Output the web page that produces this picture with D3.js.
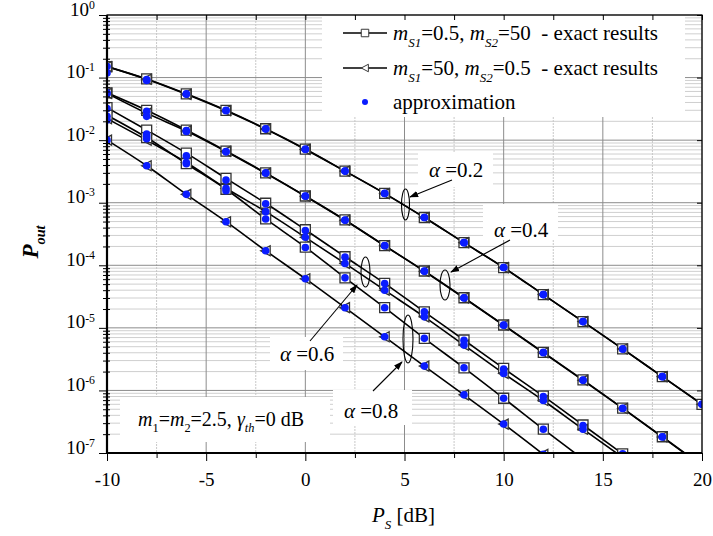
<!DOCTYPE html>
<html>
<head>
<meta charset="utf-8">
<script src="https://cdn.jsdelivr.net/npm/d3@7/dist/d3.min.js"></script>
<style>
  html,body{margin:0;padding:0;background:#fff;}
</style>
</head>
<body>
<svg id="chart" width="713" height="536"></svg>
<script>
// ---------------- DATA ----------------
const psDb = [-10,-8,-6,-4,-2,0,2,4,6,8,10,12,14,16,18,20];

// exact results, m_S1=0.5, m_S2=50 (squares) and m_S1=50, m_S2=0.5 (triangles)
const a02Sq  = [1.5e-1,9.5e-2,5.5e-2,3.0e-2,1.52e-2,7.2e-3,3.2e-3,1.41e-3,5.8e-4,2.3e-4,9.2e-5,3.4e-5,1.26e-5,4.6e-6,1.66e-6,6.0e-7];
const a02Tri = [1.5e-1,9.4e-2,5.4e-2,2.95e-2,1.5e-2,7.1e-3,3.2e-3,1.40e-3,5.8e-4,2.3e-4,9.2e-5,3.4e-5,1.26e-5,4.6e-6,1.66e-6,6.0e-7];
const a04Sq  = [5.7e-2,3.0e-2,1.45e-2,6.7e-3,3.0e-3,1.28e-3,5.3e-4,2.06e-4,8.1e-5,3.03e-5,1.11e-5,4.07e-6,1.47e-6,5.2e-7,1.82e-7,6.3e-8];
const a04Tri = [5.6e-2,2.7e-2,1.4e-2,6.6e-3,2.95e-3,1.27e-3,5.25e-4,2.05e-4,8.0e-5,3.0e-5,1.1e-5,4.0e-6,1.45e-6,5.15e-7,1.8e-7,6.2e-8];
const a06Sq  = [3.3e-2,1.45e-2,6.2e-3,2.45e-3,9.8e-4,3.7e-4,1.37e-4,5.15e-5,1.8e-5,6.4e-6,2.25e-6,8.1e-7,2.8e-7,9.7e-8];
const a06Tri = [2.2e-2,1.0e-2,4.4e-3,1.7e-3,7.2e-4,2.8e-4,1.07e-4,4.0e-5,1.5e-5,5.3e-6,1.87e-6,6.9e-7,2.4e-7,8.5e-8];
const a08Sq  = [2.5e-2,1.1e-2,4.2e-3,1.64e-3,5.5e-4,1.95e-4,6.3e-5,2.1e-5,6.8e-6,2.3e-6,7.5e-7,2.4e-7,8.0e-8];
const a08Tri = [1.0e-2,3.9e-3,1.36e-3,4.97e-4,1.71e-4,6.1e-5,2.1e-5,7.2e-6,2.45e-6,8.5e-7,2.9e-7,9.5e-8];

// approximation (blue dots)
const ap02Sq  = [1.5e-1,9.3e-2,5.5e-2,3.0e-2,1.52e-2,7.2e-3,3.2e-3,1.41e-3,5.8e-4,2.3e-4,9.2e-5,3.4e-5,1.26e-5,4.6e-6,1.66e-6,6.0e-7];
const ap02Tri = [1.18e-1,9.0e-2,5.4e-2,2.95e-2,1.5e-2,7.1e-3,3.2e-3,1.40e-3,5.8e-4,2.3e-4,9.2e-5,3.4e-5,1.26e-5,4.6e-6,1.66e-6,6.0e-7];
const ap04Sq  = [5.7e-2,2.9e-2,1.42e-2,6.6e-3,3.0e-3,1.28e-3,5.3e-4,2.06e-4,8.1e-5,3.03e-5,1.11e-5,4.07e-6,1.47e-6,5.2e-7,1.82e-7,6.3e-8];
const ap04Tri = [5.5e-2,2.4e-2,1.38e-2,6.5e-3,2.95e-3,1.27e-3,5.25e-4,2.05e-4,8.0e-5,3.0e-5,1.1e-5,4.0e-6,1.45e-6,5.15e-7,1.8e-7,6.2e-8];
const ap06Sq  = [3.2e-2,1.25e-2,5.6e-3,2.3e-3,9.6e-4,3.6e-4,1.35e-4,5.1e-5,1.8e-5,6.3e-6,2.2e-6,8.0e-7,2.75e-7,9.7e-8];
const ap06Tri = [2.1e-2,1.05e-2,4.4e-3,1.7e-3,7.2e-4,2.8e-4,1.07e-4,4.0e-5,1.5e-5,5.3e-6,1.87e-6,6.9e-7,2.4e-7,8.5e-8];
const ap08Sq  = [2.4e-2,1.15e-2,4.2e-3,1.55e-3,5.5e-4,1.92e-4,6.3e-5,2.1e-5,6.8e-6,2.3e-6,7.5e-7,2.4e-7,8.0e-8];
const ap08Tri = [1.0e-2,3.9e-3,1.36e-3,4.97e-4,1.71e-4,6.1e-5,2.1e-5,7.2e-6,2.45e-6,8.5e-7,2.9e-7,9.5e-8];

const xTicks = [-10,-5,0,5,10,15,20];
const xMinor = [-7.5,-2.5,2.5,7.5,12.5,17.5];
const yExps  = [0,-1,-2,-3,-4,-5,-6,-7];

// --------------- SETUP ---------------
const FONT = "'Liberation Serif'";
const M = {l:107, r:702, t:15, b:453};
const svg = d3.select("#chart");
const x = d3.scaleLinear().domain([-10,20]).range([M.l, M.r]);
const y = d3.scaleLog().domain([1e-7,1]).range([M.b, M.t]);

const yMajor = yExps.map(e => Math.pow(10,e));
const yMinor = [];
for (let e=-7; e<0; e++) for (let k=2; k<=9; k++) yMinor.push(k*Math.pow(10,e));

svg.append("defs").append("clipPath").attr("id","clip")
  .append("rect").attr("x",M.l).attr("y",M.t).attr("width",M.r-M.l).attr("height",M.b-M.t);
svg.select("defs").append("marker").attr("id","arrow")
  .attr("viewBox","0 0 10 10").attr("refX",9).attr("refY",5)
  .attr("markerWidth",9).attr("markerHeight",9).attr("orient","auto-start-reverse")
  .attr("markerUnits","userSpaceOnUse")
  .append("path").attr("d","M0,1.5 L10,5 L0,8.5 Z").attr("fill","#000");

// --------------- GRID ---------------
const grid = svg.append("g");
grid.selectAll(".hmin").data(yMinor).join("line")
  .attr("x1",M.l).attr("x2",M.r).attr("y1",d=>y(d)).attr("y2",d=>y(d))
  .attr("stroke","#cfcfcf").attr("stroke-width",1);
grid.selectAll(".vmin").data(xMinor).join("line")
  .attr("y1",M.t).attr("y2",M.b).attr("x1",d=>x(d)).attr("x2",d=>x(d))
  .attr("stroke","#c8c8c8").attr("stroke-width",1).attr("stroke-dasharray","2,1");
grid.selectAll(".hmaj").data(yMajor).join("line")
  .attr("x1",M.l).attr("x2",M.r).attr("y1",d=>y(d)).attr("y2",d=>y(d))
  .attr("stroke","#8c8c8c").attr("stroke-width",1);
grid.selectAll(".vmaj").data(xTicks).join("line")
  .attr("y1",M.t).attr("y2",M.b).attr("x1",d=>x(d)).attr("x2",d=>x(d))
  .attr("stroke","#8c8c8c").attr("stroke-width",1);

// --------------- WHITE BOXES ---------------
const boxes = [
  [322,16,363,101],   // legend
  [418,152,75,35],    // alpha 0.2
  [483,204,75,36],    // alpha 0.4
  [270,337,73,33],    // alpha 0.6
  [333,390,79,35],    // alpha 0.8
  [120,397,210,45]    // parameters
];
svg.append("g").selectAll("rect").data(boxes).join("rect")
  .attr("x",d=>d[0]).attr("y",d=>d[1]).attr("width",d=>d[2]).attr("height",d=>d[3])
  .attr("fill","#fff");

// --------------- DATA ---------------
const series = [
  {ex:a02Sq, ap:ap02Sq, m:"sq"}, {ex:a02Tri, ap:ap02Tri, m:"tri"},
  {ex:a04Sq, ap:ap04Sq, m:"sq"}, {ex:a04Tri, ap:ap04Tri, m:"tri"},
  {ex:a06Sq, ap:ap06Sq, m:"sq"}, {ex:a06Tri, ap:ap06Tri, m:"tri"},
  {ex:a08Sq, ap:ap08Sq, m:"sq"}, {ex:a08Tri, ap:ap08Tri, m:"tri"}
];
const line = d3.line().x(d=>x(d[0])).y(d=>y(d[1])).curve(d3.curveMonotoneX);
const plot = svg.append("g").attr("clip-path","url(#clip)");

series.forEach(s => {
  const pts = s.ex.map((v,i)=>[psDb[i],v]);
  plot.append("path").datum(pts).attr("d",line)
    .attr("fill","none").attr("stroke","#000").attr("stroke-width",1.6);
});
const sqPath = "M-5,-5H5V5H-5Z";
const triPath = "M-5,0L4.5,-5V5Z";
series.forEach(s => {
  const pts = s.ex.map((v,i)=>[psDb[i],v]);
  plot.selectAll(null).data(pts).join("path")
    .attr("transform",d=>`translate(${x(d[0])},${y(d[1])})`)
    .attr("d", s.m==="sq" ? sqPath : triPath)
    .attr("fill","#fff").attr("stroke","#333").attr("stroke-width",1.3);
});
series.forEach(s => {
  const pts = s.ap.map((v,i)=>[psDb[i],v]);
  plot.selectAll(null).data(pts).join("circle")
    .attr("cx",d=>x(d[0])).attr("cy",d=>y(d[1])).attr("r",3.8)
    .attr("fill","#0a1cff");
});

// --------------- AXES ---------------
function styleAxis(g){ g.selectAll(".domain").remove(); g.selectAll("line").attr("stroke","#000"); g.attr("font-family",null); }
svg.append("g").attr("transform",`translate(${M.l},0)`)
  .call(d3.axisLeft(y).tickValues(yMinor).tickSize(4).tickFormat(()=>"")).call(styleAxis);
svg.append("g").attr("transform",`translate(${M.l},0)`)
  .call(d3.axisRight(y).tickValues(yMinor).tickSize(3).tickFormat(()=>"")).call(styleAxis);
const yAx = svg.append("g").attr("transform",`translate(${M.l},0)`)
  .call(d3.axisLeft(y).tickValues(yMajor).tickSize(8).tickFormat(()=>"")).call(styleAxis);
svg.append("g").attr("transform",`translate(${M.r},0)`)
  .call(d3.axisLeft(y).tickValues(yMajor).tickSize(5).tickFormat(()=>"")).call(styleAxis);
const xAx = svg.append("g").attr("transform",`translate(0,${M.b})`)
  .call(d3.axisBottom(x).tickValues(xTicks).tickSize(8).tickFormat(()=>"")).call(styleAxis);
svg.append("g").attr("transform",`translate(0,${M.b})`)
  .call(d3.axisBottom(x).tickValues(xMinor).tickSize(5).tickFormat(()=>"")).call(styleAxis);
svg.append("g").attr("transform",`translate(0,${M.t})`)
  .call(d3.axisBottom(x).tickValues(xTicks.concat(xMinor)).tickSize(5).tickFormat(()=>"")).call(styleAxis);

// frame
svg.append("rect").attr("x",M.l).attr("y",M.t).attr("width",M.r-M.l).attr("height",M.b-M.t)
  .attr("fill","none").attr("stroke","#000").attr("stroke-width",1.2);
svg.append("line").attr("x1",M.l).attr("x2",M.l).attr("y1",M.t).attr("y2",M.b+1).attr("stroke","#000").attr("stroke-width",2.2);
svg.append("line").attr("x1",M.l-1).attr("x2",M.r).attr("y1",M.b).attr("y2",M.b).attr("stroke","#000").attr("stroke-width",2.2);

// rich text helper
function rich(sel, parts, size){
  sel.style("font-family", FONT).style("font-size", size+"px");
  let shift = 0;
  parts.forEach(p=>{
    const ts = sel.append("tspan").text(p.t).style("font-family", FONT);
    const target = p.sub ? size*0.32 : (p.sup ? -size*0.36 : 0);
    ts.attr("dy", target - shift); shift = target;
    if (p.sub || p.sup) ts.style("font-size", (size*0.62)+"px");
    if (p.i) ts.style("font-style","italic");
  });
  return sel;
}

// tick labels
const fs = 19;
yAx.selectAll(".tick").each(function(d){
  const e = Math.round(Math.log10(d));
  const t = d3.select(this).append("text").attr("x",-12).attr("y",0).attr("dy","0.45em")
    .attr("text-anchor","end").attr("fill","#000");
  rich(t, [{t:"10"},{t:String(e), sup:true}], fs);
});
xAx.selectAll(".tick").append("text").attr("y",33).attr("text-anchor","middle")
  .attr("fill","#000").style("font-size",fs+"px").style("font-family",FONT).text(d=>String(d));

// axis titles
rich(svg.append("text").attr("x",372).attr("y",522),
  [{t:"P",i:true},{t:"S",i:true,sub:true},{t:" [dB]"}], 21);
const yt = svg.append("text").attr("transform","translate(38,242) rotate(-90)")
  .attr("text-anchor","middle").style("font-weight","bold");
rich(yt, [{t:"P",i:true},{t:"out",i:true,sub:true}], 23);

// --------------- LEGEND ---------------
const lg = svg.append("g");
const lfs = 21;
[[40,"sq"],[75,"tri"]].forEach(([by,m])=>{
  lg.append("line").attr("x1",343).attr("x2",387).attr("y1",by-7).attr("y2",by-7)
    .attr("stroke","#000").attr("stroke-width",1.6);
  lg.append("path").attr("transform",`translate(365,${by-7}) scale(0.75)`)
    .attr("d", m==="sq"?sqPath:triPath).attr("fill","#fff").attr("stroke","#333").attr("stroke-width",1.3);
});
rich(lg.append("text").attr("x",393).attr("y",40).style("white-space","pre"),
  [{t:"m",i:true},{t:"S1",i:true,sub:true},{t:"=0.5, "},{t:"m",i:true},{t:"S2",i:true,sub:true},{t:"=50  - exact results"}], lfs);
rich(lg.append("text").attr("x",393).attr("y",75).style("white-space","pre"),
  [{t:"m",i:true},{t:"S1",i:true,sub:true},{t:"=50, "},{t:"m",i:true},{t:"S2",i:true,sub:true},{t:"=0.5  - exact results"}], lfs);
lg.append("circle").attr("cx",365).attr("cy",102).attr("r",3).attr("fill","#0a1cff");
rich(lg.append("text").attr("x",393).attr("y",109), [{t:"approximation"}], lfs);

// --------------- ANNOTATIONS ---------------
const ann = [
  {lab:"0.2", tx:429, ty:177, ex:405.5, ey:204.5, rx:4, ry:15.5, ax1:452, ay1:180, ax2:410, ay2:197},
  {lab:"0.4", tx:494, ty:237, ex:445, ey:285, rx:5, ry:15, ax1:510, ay1:240, ax2:451, ay2:272},
  {lab:"0.6", tx:280, ty:361, ex:365.5, ey:272, rx:4.5, ry:15, ax1:310, ay1:341, ax2:357, ay2:285},
  {lab:"0.8", tx:344, ty:418, ex:408, ey:339, rx:5, ry:24, ax1:373, ay1:391, ax2:402, ay2:362}
];
const ag = svg.append("g");
ann.forEach(a=>{
  ag.append("ellipse").attr("cx",a.ex).attr("cy",a.ey).attr("rx",a.rx).attr("ry",a.ry)
    .attr("fill","none").attr("stroke","#000").attr("stroke-width",1.1);
  ag.append("line").attr("x1",a.ax1).attr("y1",a.ay1).attr("x2",a.ax2).attr("y2",a.ay2)
    .attr("stroke","#000").attr("stroke-width",1.1).attr("marker-end","url(#arrow)");
  rich(ag.append("text").attr("x",a.tx).attr("y",a.ty),
    [{t:"α",i:true},{t:" ="+a.lab}], 21);
});
rich(svg.append("text").attr("x",138).attr("y",426),
  [{t:"m",i:true},{t:"1",sub:true},{t:"="},{t:"m",i:true},{t:"2",sub:true},{t:"=2.5, "},
   {t:"γ",i:true},{t:"th",i:true,sub:true},{t:"=0 dB"}], 20);
</script>
</body>
</html>
